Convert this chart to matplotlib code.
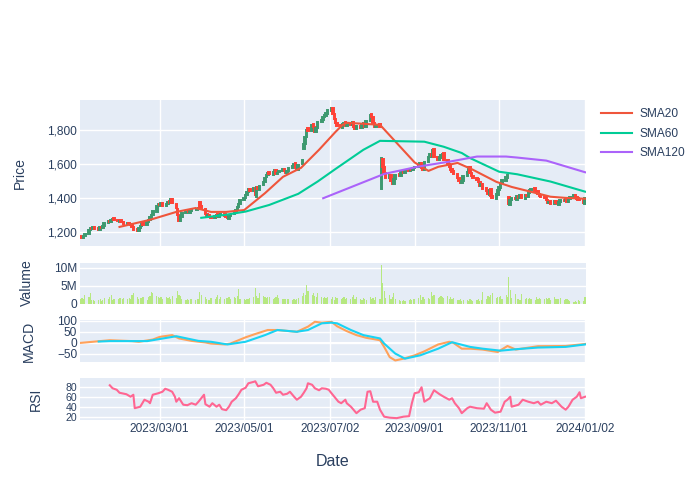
import pandas as pd
import matplotlib
matplotlib.use("Agg")
import matplotlib.pyplot as plt
import matplotlib.dates as mdates
from matplotlib.lines import Line2D

plt.rcParams['font.family'] = ['Liberation Sans', 'DejaVu Sans']

# trading days, 2023-01-03 .. 2024-01-02
days = pd.bdate_range('2023-01-03', '2024-01-02')

opens = [
    1175, 1170, 1163, 1176, 1188, 1208, 1224, 1214, 1227, 1220, 1210, 1230, 1220, 1236, 1252, 1265, 1256, 1268, 1278, 1270, 1260,  # Jan
    1268, 1260, 1256, 1246, 1254, 1246, 1242, 1226, 1214, 1206, 1222, 1233, 1250, 1242, 1256, 1268, 1282, 1298, 1318, 1352,  # Feb
    1366, 1354, 1372, 1350, 1364, 1380, 1370, 1394, 1366, 1336, 1300, 1262, 1288, 1310, 1320, 1326, 1313, 1320, 1331, 1326, 1336, 1378, 1350,  # Mar
    1336, 1306, 1288, 1300, 1288, 1280, 1294, 1302, 1286, 1298, 1304, 1294, 1286, 1276, 1292, 1302, 1317, 1330, 1347, 1364,  # Apr
    1386, 1402, 1416, 1437, 1452, 1440, 1456, 1405, 1464, 1448, 1474, 1497, 1522, 1536, 1552, 1538, 1553, 1568, 1540, 1552, 1560, 1574, 1562,  # May
    1546, 1560, 1580, 1588, 1604, 1582, 1566, 1600, 1690, 1722, 1760, 1812, 1798, 1838, 1820, 1788, 1814, 1850, 1862, 1880, 1888, 1900,  # Jun
    1915, 1930, 1896, 1870, 1845, 1830, 1816, 1838, 1848, 1826, 1842, 1830, 1850, 1824, 1806, 1828, 1812, 1833, 1845, 1822, 1856,  # Jul
    1895, 1880, 1845, 1820, 1835, 1450, 1630, 1585, 1548, 1518, 1538, 1500, 1483, 1512, 1540, 1528, 1553, 1565, 1548, 1570, 1558, 1574, 1563,  # Aug
    1578, 1583, 1590, 1607, 1580, 1563, 1610, 1640, 1662, 1645, 1688, 1645, 1622, 1638, 1653, 1665, 1625, 1602, 1588, 1570, 1557,  # Sep
    1542, 1520, 1502, 1486, 1500, 1528, 1553, 1584, 1550, 1532, 1520, 1510, 1494, 1468, 1484, 1457, 1442, 1420, 1450, 1414, 1396, 1420,  # Oct
    1446, 1460, 1486, 1503, 1520, 1405, 1360, 1386, 1400, 1390, 1412, 1400, 1417, 1396, 1420, 1408, 1430, 1446, 1457, 1442, 1438, 1424,  # Nov
    1412, 1407, 1400, 1387, 1370, 1380, 1363, 1382, 1374, 1360, 1376, 1390, 1380, 1394, 1376, 1396, 1406, 1417, 1404, 1397, 1392,  # Dec
    1387, 1365,  # Jan 2024
]

closes = [
    1168, 1162, 1175, 1185, 1210, 1222, 1215, 1225, 1218, 1212, 1228, 1222, 1235, 1250, 1262, 1258, 1270, 1275, 1268, 1262, 1265,
    1258, 1255, 1248, 1252, 1245, 1240, 1228, 1212, 1205, 1220, 1235, 1248, 1240, 1258, 1270, 1285, 1300, 1320, 1350, 1365,
    1355, 1370, 1352, 1365, 1378, 1372, 1392, 1368, 1338, 1298, 1265, 1290, 1312, 1318, 1325, 1315, 1322, 1330, 1328, 1335, 1342, 1345, 1338,
    1305, 1290, 1298, 1285, 1280, 1292, 1300, 1288, 1296, 1302, 1292, 1284, 1278, 1290, 1300, 1315, 1328, 1345, 1362, 1388,
    1400, 1418, 1435, 1450, 1442, 1458, 1420, 1462, 1450, 1472, 1495, 1520, 1538, 1550, 1540, 1555, 1565, 1542, 1550, 1562, 1572, 1560, 1548,
    1562, 1578, 1590, 1602, 1580, 1568, 1592, 1625, 1720, 1758, 1805, 1795, 1832, 1818, 1790, 1812, 1848, 1860, 1878, 1890, 1902, 1918,
    1935, 1898, 1868, 1842, 1828, 1818, 1836, 1845, 1828, 1840, 1832, 1848, 1822, 1808, 1826, 1815, 1835, 1842, 1820, 1858, 1892,
    1878, 1842, 1822, 1832, 1820, 1635, 1582, 1545, 1520, 1535, 1498, 1485, 1510, 1538, 1530, 1555, 1562, 1550, 1568, 1560, 1572, 1565, 1580,
    1585, 1592, 1605, 1578, 1565, 1612, 1642, 1660, 1648, 1685, 1642, 1625, 1640, 1655, 1662, 1622, 1600, 1585, 1568, 1555, 1540,
    1518, 1500, 1488, 1502, 1530, 1555, 1582, 1548, 1530, 1518, 1508, 1492, 1470, 1482, 1455, 1440, 1422, 1448, 1412, 1398, 1422, 1448,
    1462, 1488, 1505, 1522, 1535, 1362, 1388, 1398, 1392, 1410, 1402, 1415, 1398, 1418, 1410, 1432, 1448, 1455, 1440, 1436, 1422, 1410,
    1405, 1398, 1385, 1372, 1378, 1365, 1380, 1372, 1362, 1378, 1388, 1382, 1392, 1378, 1398, 1408, 1415, 1402, 1395, 1390, 1385,
    1372, 1398,
]

# volume in millions of shares
volume_m = [
    1.5, 1.6, 1.4, 2.6, 1.8, 2.9, 1.2, 1.0, 0.9, 1.1, 1.4, 0.8, 1.2, 1.7, 1.3, 1.9, 2.5, 1.2, 1.5, 1.4, 1.6,
    1.6, 1.4, 1.7, 1.5, 1.6, 1.4, 2.6, 2.9, 1.8, 1.5, 1.7, 1.6, 1.8, 1.2, 1.9, 2.3, 3.4, 2.9, 2.1, 1.8,
    1.7, 1.9, 1.5, 2.0, 1.6, 1.8, 1.4, 2.1, 1.7, 3.6, 2.5, 2.2, 1.3, 1.1, 1.4, 1.2, 1.5, 1.3, 1.2, 1.4, 1.3, 3.4, 2.6,
    1.8, 1.4, 1.1, 1.0, 1.6, 1.3, 1.8, 2.5, 1.5, 1.9, 1.4, 1.7, 1.6, 2.0, 1.5, 1.8, 1.6, 2.3, 4.1, 1.4,
    1.4, 1.2, 1.5, 1.3, 1.6, 2.0, 4.5, 2.1, 1.7, 2.9, 2.2, 1.8, 1.6, 1.9, 2.0, 1.5, 1.7, 1.9, 2.6, 1.6, 1.3, 1.5, 1.4,
    1.3, 1.4, 1.2, 1.5, 1.1, 1.4, 1.6, 2.2, 3.1, 2.4, 5.2, 3.6, 2.6, 3.1, 2.2, 1.9, 3.1, 1.8, 1.6, 2.0, 1.7, 1.9,
    1.5, 1.8, 1.2, 1.9, 1.6, 1.4, 1.7, 1.8, 1.5, 1.6, 1.4, 1.9, 2.6, 1.3, 1.8, 1.5, 1.2, 1.7, 1.4, 1.1, 1.9,
    1.3, 1.6, 1.2, 1.8, 1.5, 10.7, 5.9, 3.7, 1.7, 2.5, 1.3, 2.0, 3.1, 1.4, 1.0, 0.7, 0.9, 1.2, 0.8, 1.1, 1.4, 1.0, 1.3,
    1.4, 1.6, 2.5, 1.2, 1.9, 1.5, 1.7, 1.4, 3.4, 2.1, 2.6, 1.6, 1.9, 2.3, 2.0, 1.7, 2.2, 1.5, 1.8, 1.4, 1.6,
    1.2, 1.0, 1.3, 0.9, 1.1, 1.2, 0.8, 1.4, 1.0, 0.9, 1.1, 1.3, 0.8, 1.2, 3.4, 1.5, 2.2, 1.8, 2.5, 3.0, 1.7, 2.0,
    1.8, 2.2, 1.5, 2.4, 1.9, 7.3, 3.8, 1.6, 2.7, 1.3, 1.5, 1.2, 2.7, 1.4, 1.6, 1.3, 1.7, 1.5, 1.2, 1.8, 1.4, 1.6,
    1.5, 1.3, 1.7, 1.4, 1.6, 1.2, 1.8, 1.5, 1.3, 1.4, 1.6, 1.2, 1.5, 1.3, 1.0, 0.8, 0.6, 0.9, 0.5, 1.1, 0.7,
    0.9, 2.0,
]

# moving averages, read at their bends
sma20_dates = ['2023-01-31', '2023-02-22', '2023-03-13', '2023-03-27', '2023-04-07', '2023-04-18', '2023-05-01',
               '2023-05-16', '2023-05-29', '2023-06-11', '2023-06-24', '2023-07-06', '2023-07-11', '2023-07-14',
               '2023-08-07', '2023-09-01', '2023-09-11', '2023-09-18', '2023-10-02', '2023-10-13', '2023-10-30',
               '2023-11-10', '2023-11-27', '2023-12-08', '2023-12-19', '2024-01-02']
sma20_values = [1228, 1270, 1317, 1340, 1317, 1317, 1328, 1428, 1525, 1578, 1685, 1792, 1833, 1845,
                1833, 1610, 1560, 1584, 1607, 1567, 1495, 1465, 1430, 1407, 1400, 1395]

sma60_dates = ['2023-03-31', '2023-04-17', '2023-05-02', '2023-05-19', '2023-06-09', '2023-06-23', '2023-07-06',
               '2023-07-26', '2023-08-07', '2023-09-08', '2023-09-22', '2023-10-05', '2023-10-11', '2023-11-01',
               '2023-11-14', '2023-12-08', '2024-01-02']
sma60_values = [1282, 1299, 1319, 1358, 1424, 1497, 1572, 1685, 1738, 1733, 1703, 1666, 1636, 1555,
                1540, 1497, 1437]

sma120_dates = ['2023-06-27', '2023-08-10', '2023-09-04', '2023-09-27', '2023-10-16', '2023-11-06', '2023-11-14',
                '2023-12-05', '2024-01-02']
sma120_values = [1398, 1542, 1586, 1616, 1645, 1645, 1639, 1621, 1552]

macd_dates = ['2023-01-03', '2023-01-24', '2023-02-09', '2023-02-14', '2023-02-24', '2023-03-01', '2023-03-10',
              '2023-03-15', '2023-03-24', '2023-04-03', '2023-04-07', '2023-04-17', '2023-04-21', '2023-05-02',
              '2023-05-09', '2023-05-18', '2023-05-25', '2023-06-08', '2023-06-16', '2023-06-21', '2023-06-26',
              '2023-07-03', '2023-07-07', '2023-07-14', '2023-07-21', '2023-07-28', '2023-08-07', '2023-08-10',
              '2023-08-14', '2023-08-18', '2023-08-24', '2023-09-01', '2023-09-08', '2023-09-18', '2023-09-26',
              '2023-09-29', '2023-10-05', '2023-10-11', '2023-10-20', '2023-10-31', '2023-11-07', '2023-11-13',
              '2023-11-29', '2023-12-19', '2024-01-02']
macd_values = [0, 12, 8, 5, 15, 27, 35, 20, 9, 2, -3, -7, -3, 25, 40, 58, 58, 50, 73, 95, 91, 95, 75, 53, 35, 23,
               12, -18, -64, -79, -71, -56, -38, -7, 5, 0, -26, -26, -30, -41, -14, -30, -15, -14, -5]

signal_dates = ['2023-01-16', '2023-01-24', '2023-02-20', '2023-03-13', '2023-03-29', '2023-04-07', '2023-04-19',
                '2023-05-02', '2023-05-16', '2023-05-25', '2023-06-08', '2023-06-16', '2023-06-26', '2023-07-03',
                '2023-07-07', '2023-07-17', '2023-07-26', '2023-08-07', '2023-08-10', '2023-08-18', '2023-08-25',
                '2023-09-05', '2023-09-18', '2023-09-28', '2023-10-11', '2023-10-20', '2023-11-02', '2023-11-14',
                '2023-11-29', '2023-12-19', '2024-01-02']
signal_values = [6, 8, 8, 30, 9, 5, -7, 5, 35, 58, 50, 58, 88, 91, 88, 58, 35, 20, -3, -48, -71, -56, -26, 3,
                 -18, -26, -35, -28, -21, -18, -7]

rsi_dates = ['2023-01-24', '2023-01-26', '2023-01-29', '2023-01-31', '2023-02-05', '2023-02-08', '2023-02-10',
             '2023-02-11', '2023-02-15', '2023-02-18', '2023-02-21', '2023-02-22', '2023-02-24', '2023-02-28',
             '2023-03-03', '2023-03-05', '2023-03-07', '2023-03-10', '2023-03-12', '2023-03-13', '2023-03-15',
             '2023-03-18', '2023-03-21', '2023-03-24', '2023-03-27', '2023-03-29', '2023-04-02', '2023-04-03',
             '2023-04-06', '2023-04-08', '2023-04-11', '2023-04-13', '2023-04-15', '2023-04-18', '2023-04-20',
             '2023-04-22', '2023-04-25', '2023-04-27', '2023-04-29', '2023-05-02', '2023-05-04', '2023-05-08',
             '2023-05-09', '2023-05-11', '2023-05-15', '2023-05-17', '2023-05-20', '2023-05-22', '2023-05-24',
             '2023-05-27', '2023-05-29', '2023-06-01', '2023-06-03', '2023-06-06', '2023-06-08', '2023-06-11',
             '2023-06-13', '2023-06-15', '2023-06-16', '2023-06-19', '2023-06-21', '2023-06-24', '2023-06-26',
             '2023-06-29', '2023-07-01', '2023-07-03', '2023-07-06', '2023-07-08', '2023-07-10', '2023-07-13',
             '2023-07-14', '2023-07-17', '2023-07-21', '2023-07-24', '2023-07-27', '2023-07-29', '2023-07-31',
             '2023-08-02', '2023-08-05', '2023-08-07', '2023-08-10', '2023-08-14', '2023-08-19', '2023-08-24',
             '2023-08-28', '2023-08-30', '2023-09-01', '2023-09-04', '2023-09-06', '2023-09-08', '2023-09-12',
             '2023-09-15', '2023-09-19', '2023-09-22', '2023-09-26', '2023-09-28', '2023-09-30', '2023-10-03',
             '2023-10-05', '2023-10-09', '2023-10-11', '2023-10-16', '2023-10-21', '2023-10-23', '2023-10-26',
             '2023-10-29', '2023-11-02', '2023-11-05', '2023-11-07', '2023-11-09', '2023-11-10', '2023-11-15',
             '2023-11-18', '2023-11-22', '2023-11-26', '2023-11-29', '2023-12-01', '2023-12-05', '2023-12-09',
             '2023-12-12', '2023-12-16', '2023-12-19', '2023-12-21', '2023-12-24', '2023-12-27', '2023-12-29',
             '2023-12-30', '2024-01-02']
rsi_values = [83, 77, 74, 68, 65, 60, 64, 37, 40, 54, 50, 47, 64, 67, 70, 76, 74, 70, 60, 50, 57, 44, 43, 47, 44,
              50, 64, 45, 40, 47, 40, 44, 35, 33, 40, 50, 57, 65, 74, 78, 87, 90, 91, 81, 84, 88, 84, 77, 68, 70,
              64, 66, 70, 60, 54, 60, 68, 77, 87, 84, 77, 73, 77, 76, 74, 67, 57, 50, 47, 54, 47, 40, 27, 34, 37,
              70, 71, 50, 50, 34, 20, 18, 17, 20, 21, 47, 67, 69, 79, 50, 57, 73, 65, 60, 54, 57, 47, 37, 27, 37,
              40, 37, 36, 47, 34, 28, 30, 50, 54, 60, 40, 44, 54, 50, 47, 50, 44, 50, 47, 52, 40, 34, 40, 54, 60,
              69, 57, 60]

tick_dates = ['2023-03-01', '2023-05-01', '2023-07-02', '2023-09-01', '2023-11-01', '2024-01-02']

BG = '#E5ECF6'
TXT = '#2a3f5f'
UP, DOWN = '#3D9970', '#FF4136'

W, H = 700, 500
fig = plt.figure(figsize=(W / 100, H / 100), dpi=100)


def panel(top, bottom):
    ax = fig.add_axes([80 / W, 1 - bottom / H, 506 / W, (bottom - top) / H])
    ax.set_facecolor(BG)
    for s in ax.spines.values():
        s.set_visible(False)
    ax.tick_params(length=0, labelsize=8.6, labelcolor=TXT, pad=2)
    ax.set_axisbelow(True)
    ax.grid(True, color='white', linewidth=1)
    ax.set_xlim(pd.Timestamp('2023-01-02 12:00'), pd.Timestamp('2024-01-02 16:00'))
    ax.set_xticks(pd.to_datetime(tick_dates))
    ax.xaxis.set_major_formatter(mdates.DateFormatter('%Y/%m/%d'))
    ax.tick_params(axis='x', labelbottom=False)
    return ax


ax_p = panel(100, 246)
ax_v = panel(263, 304)
ax_m = panel(320, 362)
ax_r = panel(378, 420)

# candlesticks
colors = [UP if c >= o else DOWN for o, c in zip(opens, closes)]
lo = [min(o, c) for o, c in zip(opens, closes)]
hi = [abs(c - o) for o, c in zip(opens, closes)]
ax_p.bar(days, hi, bottom=lo, width=1.1, color=colors, edgecolor=colors, linewidth=1.4)
ax_p.plot(pd.to_datetime(sma20_dates), sma20_values, color='#EF553B', lw=1.5)
ax_p.plot(pd.to_datetime(sma60_dates), sma60_values, color='#00CC96', lw=1.5)
ax_p.plot(pd.to_datetime(sma120_dates), sma120_values, color='#AB63FA', lw=1.5)
ax_p.set_ylim(1115, 1980)
ax_p.set_yticks([1200, 1400, 1600, 1800])
ax_p.set_yticklabels(['1,200', '1,400', '1,600', '1,800'])

ax_v.bar(days, [v * 1e6 for v in volume_m], width=0.85, color='#B6E880')
ax_v.set_ylim(0, 11.26e6)
ax_v.set_yticks([0, 5e6, 10e6])
ax_v.set_yticklabels(['0', '5M', '10M'])
ax_v.grid(False, axis='x')

ax_m.plot(pd.to_datetime(macd_dates), macd_values, color='#FFA15A', lw=1.5)
ax_m.plot(pd.to_datetime(signal_dates), signal_values, color='#19D3F3', lw=1.5)
ax_m.axhline(0, color='white', lw=1.5, zorder=0.5)
ax_m.set_ylim(-86, 103)
ax_m.set_yticks([-50, 0, 50, 100])
ax_m.set_yticklabels(['\u221250', '0', '50', '100'])

ax_r.plot(pd.to_datetime(rsi_dates), rsi_values, color='#FF6692', lw=1.5)
ax_r.set_ylim(13.3, 97.6)
ax_r.set_yticks([20, 40, 60, 80])
ax_r.tick_params(axis='y', labelsize=7.6)
ax_r.tick_params(axis='x', labelbottom=True)

# axis titles
for label, x, yc in [('Price', 20, 173), ('Valume', 27, 283), ('MACD', 29, 341), ('RSI', 36, 399)]:
    fig.text(x / W, 1 - yc / H, label, rotation=90, ha='center', va='center', fontsize=10.1, color=TXT)
fig.text(333 / W, 1 - 461 / H, 'Date', ha='center', va='center', fontsize=11.5, color=TXT)

handles = [Line2D([], [], color='#EF553B', lw=1.5),
           Line2D([], [], color='#00CC96', lw=1.5),
           Line2D([], [], color='#AB63FA', lw=1.5)]
fig.legend(handles, ['SMA20', 'SMA60', 'SMA120'], loc='upper left', bbox_to_anchor=(599 / W, 1 - 106 / H),
           frameon=False, fontsize=8.6, labelcolor=TXT, handlelength=2.6, handletextpad=0.6, labelspacing=0.62,
           borderaxespad=0, borderpad=0.2)

fig.savefig('out.png', dpi=100, facecolor='white')
